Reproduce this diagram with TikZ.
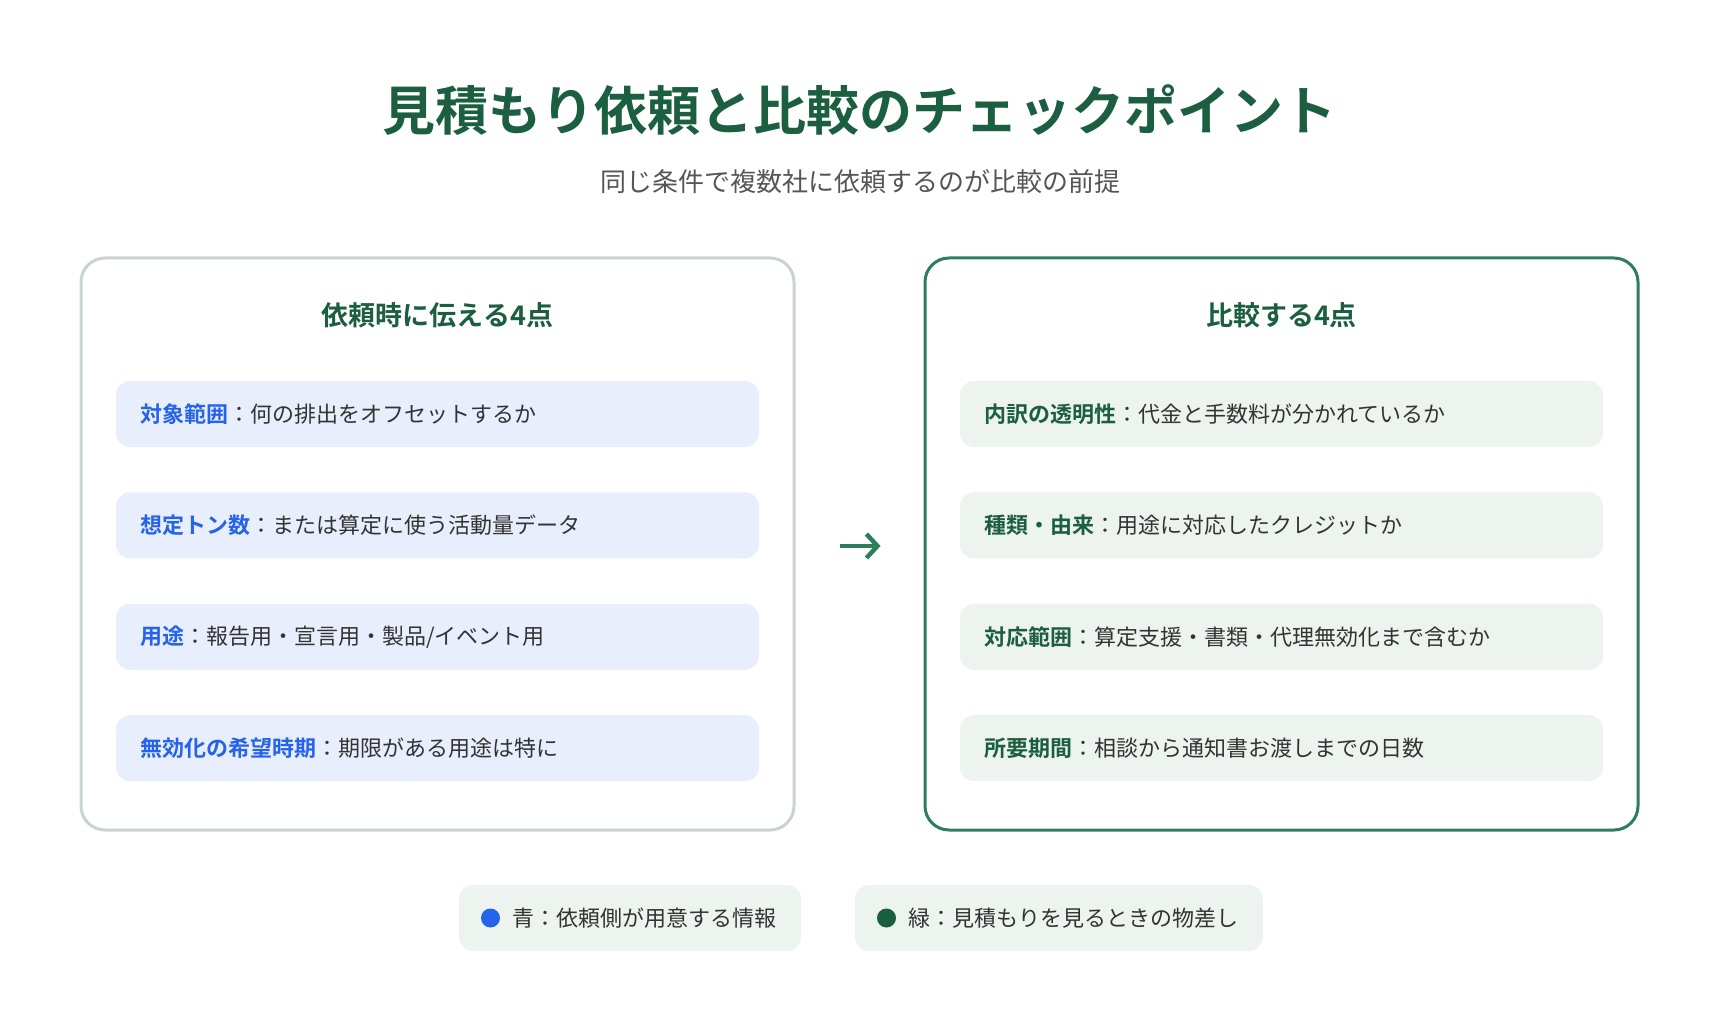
\documentclass[tikz,border=0pt]{standalone}
\usepackage{fontspec}
\setmainfont{Noto Sans CJK JP}[BoldFont={Noto Sans CJK JP Bold}]
\usetikzlibrary{arrows.meta,positioning}

\definecolor{titlegreen}{HTML}{1B5E40}
\definecolor{framegreen}{HTML}{2E7D5B}
\definecolor{framegray}{HTML}{C9D4CF}
\definecolor{itemblue}{HTML}{E8EEFB}
\definecolor{itemgreen}{HTML}{EDF3EF}
\definecolor{labelblue}{HTML}{2563EB}
\definecolor{bodytext}{HTML}{333333}
\definecolor{subgray}{HTML}{555555}

\newcommand{\lblB}[1]{\textcolor{labelblue}{\bfseries #1}}
\newcommand{\lblG}[1]{\textcolor{titlegreen}{\bfseries #1}}

\tikzset{
  panel/.style={rounded corners=24pt, line width=3pt, fill=white,
    minimum width=713pt, minimum height=572pt},
  heading/.style={font=\fontsize{27}{32}\selectfont\bfseries, text=titlegreen},
  item/.style={rounded corners=14pt, minimum width=643pt, minimum height=66pt,
    text width=595pt, inner xsep=24pt, align=left, text=bodytext,
    font=\fontsize{22}{26}\selectfont},
  itemL/.style={item, fill=itemblue},
  itemR/.style={item, fill=itemgreen},
  legendbox/.style={rounded corners=14pt, fill=itemgreen, minimum height=66pt},
  legendtext/.style={inner sep=0pt, text=bodytext, font=\fontsize{22}{26}\selectfont},
  dot/.style={circle, inner sep=0pt, minimum size=19pt}
}

\begin{document}
\begin{tikzpicture}[x=1pt, y=-1pt]
  \fill[white] (0,0) rectangle (1720,1024);
  \useasboundingbox (0,0) rectangle (1720,1024);

  \node[font=\fontsize{53}{61}\selectfont\bfseries, text=titlegreen] (title) at (859,110)
    {見積もり依頼と比較のチェックポイント};
  \node[font=\fontsize{26}{30}\selectfont, text=subgray] (subtitle) at (860,182)
    {同じ条件で複数社に依頼するのが比較の前提};

  \node[panel, draw=framegray] (lp) at (437.5,544) {};
  \node[panel, draw=framegreen] (rp) at (1281.5,544) {};

  \node[heading] (lh) at (437.5,315) {依頼時に伝える4点};
  \node[heading] (rh) at (1281.5,315) {比較する4点};

  \node[itemL] (l1) at (437.5,414) {\lblB{対象範囲}：何の排出をオフセットするか};
  \node[itemL, below=45pt of l1] (l2) {\lblB{想定トン数}：または算定に使う活動量データ};
  \node[itemL, below=45pt of l2] (l3) {\lblB{用途}：報告用・宣言用・製品/イベント用};
  \node[itemL, below=45pt of l3] (l4) {\lblB{無効化の希望時期}：期限がある用途は特に};

  \node[itemR] (r1) at (1281.5,414) {\lblG{内訳の透明性}：代金と手数料が分かれているか};
  \node[itemR, below=45pt of r1] (r2) {\lblG{種類・由来}：用途に対応したクレジットか};
  \node[itemR, below=45pt of r2] (r3) {\lblG{対応範囲}：算定支援・書類・代理無効化まで含むか};
  \node[itemR, below=45pt of r3] (r4) {\lblG{所要期間}：相談から通知書お渡しまでの日数};

  \draw[-{Straight Barb[length=11pt,width=24pt]}, line width=4.5pt, draw=framegreen,
    shorten <=44pt, shorten >=43pt] ([yshift=-2pt]lp.east) -- ([yshift=-2pt]rp.west);

  \node[legendbox, minimum width=342pt] (lg1) at (630,918) {};
  \node[dot, fill=labelblue, right=22pt of lg1.west] (d1) {};
  \node[legendtext, right=12pt of d1] (t1) {青：依頼側が用意する情報};

  \node[legendbox, minimum width=408pt] (lg2) at (1059,918) {};
  \node[dot, fill=titlegreen, right=22pt of lg2.west] (d2) {};
  \node[legendtext, right=12pt of d2] (t2) {緑：見積もりを見るときの物差し};
\end{tikzpicture}
\end{document}
